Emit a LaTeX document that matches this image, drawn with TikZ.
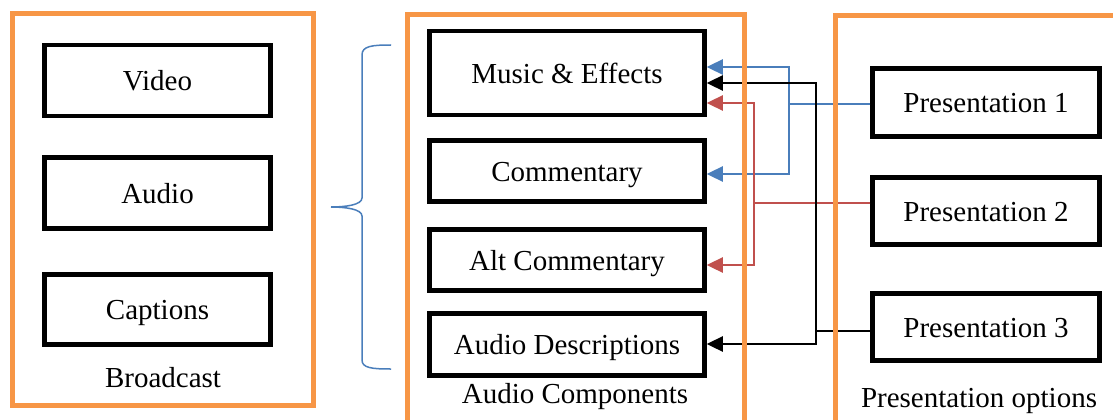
\documentclass[tikz,border=0pt]{standalone}
\usepackage{fontspec}
\setmainfont{Liberation Serif}
\usetikzlibrary{arrows.meta}
\definecolor{orng}{HTML}{F79646}
\definecolor{blu}{HTML}{4A7EBB}
\definecolor{rd}{HTML}{C0504D}
\begin{document}
\begin{tikzpicture}[x=1pt,y=-1pt,
  group/.style={draw=orng, line width=5pt, inner sep=0pt},
  item/.style={draw=black, line width=4.5pt, font=\fontsize{29}{34}\selectfont, inner sep=0pt, text height=20pt, text depth=0pt},
  lbl/.style={font=\fontsize{29}{34}\selectfont, inner sep=0pt, anchor=base},
  conn/.style={line width=2.4pt, -{Triangle[length=16pt,width=15pt]}},
  brace/.style={draw=blu, line width=1.5pt}]
\useasboundingbox (0,0) rectangle (1113,420);
\clip (0,0) rectangle (1113,420);
% left column
\node[item, minimum width=226pt, minimum height=71pt] (VI) at (157.5,80.5) {Video};
\node[item, minimum width=226pt, minimum height=71pt] (AU) at (157.5,193) {Audio};
\node[item, minimum width=226pt, minimum height=70pt] (CA) at (157.5,309.5) {Captions};
\node[lbl] (BL) at (163,387) {Broadcast};
% middle column
\node[item, minimum width=275pt, minimum height=84pt] (ME) at (567,73) {Music \& Effects};
\node[item, minimum width=275pt, minimum height=61pt] (CO) at (567,171) {Commentary};
\node[item, minimum width=275pt, minimum height=61pt] (AL) at (567,260) {Alt Commentary};
\node[item, minimum width=275pt, minimum height=62pt] (AD) at (567,344.5) {Audio Descriptions};
\node[lbl] (AC) at (575,403) {Audio Components};
% right column
\node[item, minimum width=227pt, minimum height=68pt] (P1) at (986,102.5) {Presentation 1};
\node[item, minimum width=227pt, minimum height=67pt] (P2) at (986,211) {Presentation 2};
\node[item, minimum width=227pt, minimum height=67pt] (P3) at (986,327) {Presentation 3};
\node[lbl] (PO) at (979,407) {Presentation options};
% connectors
\coordinate (b1) at (789,104);
\coordinate (r1) at (754,203);
\coordinate (k1) at (816,331);
\draw[conn, blu] (P1.west |- b1) -- (b1) |- (ME.east |- 0,67);
\draw[conn, blu] (b1) |- (CO.east |- 0,174);
\draw[conn, rd] (P2.west |- r1) -- (r1) |- (ME.east |- 0,103);
\draw[conn, rd] (r1) |- (AL.east |- 0,265);
\draw[conn] (P3.west |- k1) -- (k1) |- (ME.east |- 0,83);
\draw[conn] (k1) |- (AD.east |- 0,344);
% groups
\node[group, minimum width=301.3pt, minimum height=391.7pt] (G1) at (163.3,209.8) {};
\node[group, minimum width=337pt, minimum height=415pt] (G2) at (576,222) {};
\node[group, minimum width=295pt, minimum height=414pt] (G3) at (982.5,223) {};
% brace
\draw[brace] (391,45) .. controls (372,45) and (362,46) .. (362,55) -- (362,198) .. controls (362,205) and (345,207) .. (331,207);
\draw[brace] (331,207) .. controls (345,207) and (362,209) .. (362,216) -- (362,360) .. controls (362,368) and (372,369) .. (391,369);
\end{tikzpicture}
\end{document}
